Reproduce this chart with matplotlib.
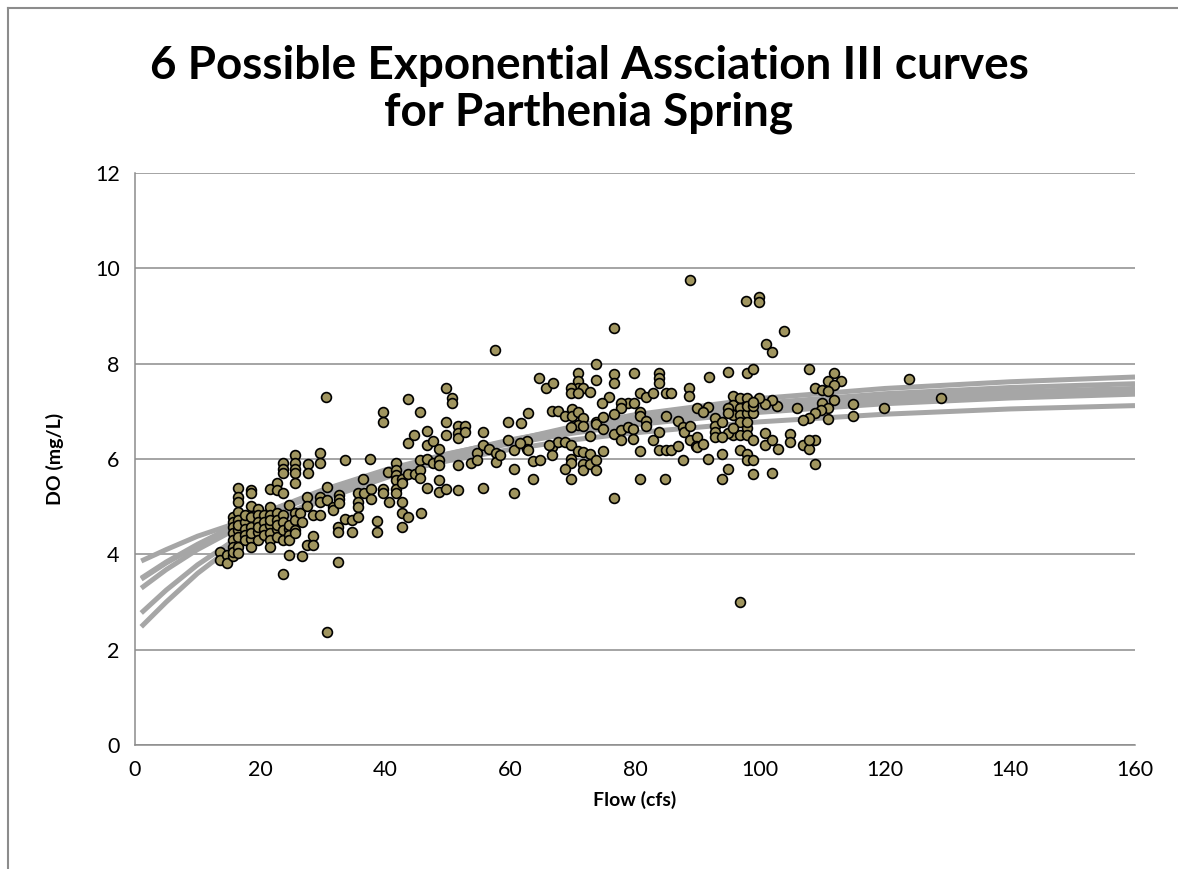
import matplotlib.pyplot as plt
from matplotlib.lines import Line2D

plt.rcParams['font.family'] = ['Lato', 'DejaVu Sans']

flow = [
    # flow < 26
    13.6, 13.6, 14.7, 14.7, 15.6, 15.6, 15.6, 15.6, 15.6, 15.6, 15.6, 15.6,
    16.5, 16.5, 16.5, 16.5, 16.5, 16.5, 16.5, 16.5, 16.5, 16.5,
    17.6, 17.6, 17.6, 17.6, 17.6,
    18.6, 18.6, 18.6, 18.6, 18.6, 18.6, 18.6, 18.6,
    19.6, 19.6, 19.6, 19.6, 19.6, 19.6,
    20.7, 20.7, 20.7, 20.7,
    21.6, 21.6, 21.6, 21.6, 21.6, 21.6, 21.6, 21.6,
    22.7, 22.7, 22.7, 22.7, 22.7, 22.7, 22.7,
    23.6, 23.6, 23.6, 23.6, 23.6, 23.6, 23.6, 23.6, 23.6,
    24.7, 24.7, 24.7, 24.7, 24.7, 24.7,
    25.6, 25.6, 25.6, 25.6, 25.6, 25.6, 25.6, 25.6, 25.6,
    # 26 - 58
    26.4, 26.7, 26.7, 27.6, 27.6, 27.5, 27.5, 27.5, 28.5, 28.5, 28.5,
    29.6, 29.6, 29.6, 29.6, 29.6, 30.6, 30.7, 30.7, 30.7, 31.7, 31.7,
    32.5, 32.5, 32.5, 32.7, 32.7, 32.7, 33.6, 33.6, 34.7, 34.7,
    35.7, 35.7, 35.7, 35.7, 36.5, 36.7, 37.6, 37.7, 37.7, 38.7, 38.7,
    39.7, 39.7, 39.7, 39.7, 40.5, 40.7,
    41.7, 41.7, 41.7, 41.7, 41.7, 41.7, 42.7, 42.7, 42.7, 42.7, 42.7,
    43.6, 43.6, 43.7, 43.7, 44.6, 44.8, 45.6, 45.6, 45.6, 45.6, 45.8,
    46.7, 46.7, 46.7, 46.7, 47.7, 47.7, 48.7, 48.7, 48.7, 48.7, 48.7,
    49.7, 49.7, 49.7, 49.8, 50.7, 50.7, 51.7, 51.7, 51.7, 51.7, 51.7,
    52.8, 52.8, 53.7, 54.7, 54.7, 55.6, 55.7, 55.6, 56.7, 57.6, 57.8, 57.8,
    # 58 - 90
    88.8, 76.7, 73.7, 64.7, 65.8, 66.8, 70.8, 70.8, 70.8, 69.7, 69.7,
    71.7, 72.8, 70.8, 73.7, 76.7, 76.7, 75.8, 74.7, 79.8, 80.8, 81.8, 78.8,
    77.7, 77.7, 79.8, 83.8, 83.8, 83.8, 84.9, 85.8, 82.8, 88.7, 88.7,
    59.7, 61.7, 62.8, 66.7, 67.7, 68.8, 69.9, 69.9, 70.8, 71.7, 70.8, 69.7,
    71.7, 73.7, 73.7, 74.8, 74.8, 76.7, 76.7, 77.7, 77.7, 78.8, 79.7, 79.7,
    80.8, 80.8, 81.8, 81.8, 82.8, 83.8, 84.9, 86.8, 87.7, 87.9, 88.8, 88.8,
    89.9, 89.9, 89.8,
    58.4, 60.7, 62.7, 62.7, 63.7, 64.8, 66.7, 66.7, 67.7, 68.8, 69.7, 69.7,
    69.7, 68.8, 69.7, 70.8, 71.7, 71.7, 71.7, 72.8, 72.8, 72.8, 73.7, 73.7,
    74.8, 60.7, 60.7, 63.7, 61.6, 59.7, 62.8, 66.3,
    76.7, 80.8, 80.8, 83.8, 84.9, 85.8, 86.8, 87.7, 89.9, 84.8,
    # > 90
    97.8, 99.8, 99.8, 103.8, 100.9, 101.9, 91.8, 94.8, 97.9, 98.8, 107.8,
    111.9, 110.8, 112.9, 111.9, 108.8, 109.9, 110.9,
    111.9, 109.9, 110.9, 109.8, 108.8, 107.8, 106.8, 110.8,
    114.8, 114.8, 119.8, 123.9, 128.9,
    105.9, 102.7, 101.9, 100.8, 99.9,
    95.7, 95.7, 95.7, 95.7, 96.8, 96.8, 96.8, 96.8, 96.8,
    97.9, 97.9, 97.9, 97.9, 97.9, 97.9, 94.8, 94.8, 94.8,
    98.8, 98.8, 98.8, 98.8, 91.7, 91.7, 90.8, 90.8,
    92.8, 92.8, 92.8, 92.8, 93.9, 93.9, 93.9, 95.7, 96.8, 97.9,
    100.8, 100.8, 101.9, 102.8, 104.8, 104.8, 106.8, 107.8, 108.8, 107.8,
    93.9, 94.8, 97.9, 98.8, 98.8, 101.9, 108.8, 96.8,
]

do = [
    4.05, 3.88, 3.98, 3.82, 3.96, 4.79, 4.68, 4.58, 4.44, 4.30, 4.16, 4.05,
    5.40, 5.21, 5.10, 4.89, 4.72, 4.51, 4.37, 4.16, 4.62, 4.02,
    4.68, 4.54, 4.40, 4.30, 4.82,
    5.36, 5.29, 5.01, 4.79, 4.58, 4.33, 4.16, 4.45,
    4.96, 4.82, 4.68, 4.47, 4.30, 4.58,
    4.82, 4.68, 4.54, 4.40,
    5.38, 5.00, 4.82, 4.61, 4.44, 4.30, 4.16, 4.72,
    5.49, 4.86, 4.72, 4.54, 4.37, 5.35, 4.62,
    5.91, 5.80, 5.70, 5.28, 4.82, 4.68, 4.51, 4.30, 3.59,
    5.03, 4.54, 4.40, 4.30, 3.98, 4.62,
    6.08, 5.91, 5.80, 5.70, 5.49, 4.86, 4.72, 4.51, 4.44,
    4.86, 4.68, 3.96, 5.89, 5.70, 5.21, 5.01, 4.19, 4.82, 4.38, 4.19,
    6.12, 5.91, 5.21, 5.10, 4.82, 7.31, 5.42, 5.14, 2.38, 5.00, 4.93,
    4.58, 4.47, 3.83, 5.24, 5.17, 5.07, 5.98, 4.75, 4.73, 4.47,
    5.28, 5.10, 5.00, 4.79, 5.57, 5.28, 6.01, 5.38, 5.17, 4.69, 4.47,
    6.99, 6.78, 5.38, 5.28, 5.73, 5.10,
    5.92, 5.77, 5.66, 5.56, 5.38, 5.28, 5.59, 5.49, 5.10, 4.87, 4.58,
    7.25, 6.33, 5.68, 4.79, 6.50, 5.68, 6.99, 5.98, 5.77, 5.61, 4.87,
    6.59, 6.29, 5.99, 5.40, 6.38, 5.91, 6.20, 5.98, 5.87, 5.56, 5.31,
    7.49, 6.78, 6.50, 5.38, 7.29, 7.18, 6.69, 6.54, 6.45, 5.87, 5.35,
    6.69, 6.57, 5.92, 6.13, 5.98, 6.57, 6.29, 5.40, 6.22, 8.29, 6.12, 5.94,
    9.75, 8.75, 7.99, 7.69, 7.50, 7.59, 7.80, 7.64, 7.48, 7.48, 7.38,
    7.50, 7.41, 7.38, 7.66, 7.78, 7.59, 7.31, 7.18, 7.80, 7.39, 7.31, 7.18,
    7.18, 7.06, 7.18, 7.80, 7.69, 7.59, 7.39, 7.39, 7.39, 7.50, 7.33,
    6.78, 6.75, 6.97, 7.01, 7.01, 6.91, 7.05, 6.91, 6.98, 6.85, 6.71, 6.68,
    6.70, 6.78, 6.73, 6.89, 6.63, 6.94, 6.52, 6.61, 6.40, 6.68, 6.63, 6.41,
    6.99, 6.91, 6.80, 6.69, 6.40, 6.56, 6.91, 6.80, 6.68, 6.56, 6.70, 6.40,
    7.08, 6.47, 6.27,
    6.08, 6.19, 6.38, 6.21, 5.96, 5.98, 6.26, 6.08, 6.36, 6.36, 6.29, 6.01,
    5.91, 5.78, 5.57, 6.17, 6.15, 5.89, 5.77, 6.48, 6.10, 5.89, 5.98, 5.77,
    6.17, 5.78, 5.28, 5.57, 6.33, 6.40, 6.19, 6.29,
    5.19, 6.17, 5.57, 6.19, 6.19, 6.19, 6.27, 5.98, 6.26, 5.58,
    9.31, 9.40, 9.29, 8.69, 8.41, 8.25, 7.73, 7.83, 7.80, 7.89, 7.89,
    7.81, 7.64, 7.64, 7.55, 7.48, 7.45, 7.43,
    7.24, 7.18, 7.08, 7.03, 6.96, 6.87, 6.82, 6.84,
    7.15, 6.90, 7.08, 7.68, 7.29,
    7.08, 7.11, 7.24, 7.15, 7.29,
    7.32, 7.13, 6.92, 6.50, 7.29, 7.08, 6.92, 6.78, 6.50,
    7.29, 6.96, 7.11, 6.64, 6.78, 6.50, 7.08, 6.96, 6.54,
    6.96, 7.11, 7.20, 6.40, 7.10, 6.01, 6.99, 6.31,
    6.87, 6.69, 6.57, 6.47, 6.78, 6.47, 6.10, 6.64, 6.18, 6.10,
    6.55, 6.29, 6.40, 6.22, 6.52, 6.36, 6.29, 6.22, 6.40, 6.40,
    5.57, 5.78, 5.98, 5.98, 5.68, 5.71, 5.89, 3.00,
]

# six fitted exponential association curves, values read at these flows
curve_flow = [1, 5, 10, 15, 20, 30, 40, 50, 60, 70, 80, 100, 120, 140, 160]
curve_1 = [3.86, 4.10, 4.38, 4.60, 4.85, 5.30, 5.66, 5.96, 6.20, 6.40, 6.55, 6.78, 6.94, 7.05, 7.12]
curve_2 = [3.48, 3.82, 4.18, 4.50, 4.80, 5.30, 5.71, 6.05, 6.32, 6.54, 6.72, 6.98, 7.16, 7.28, 7.36]
curve_3 = [3.50, 3.84, 4.21, 4.54, 4.84, 5.35, 5.77, 6.11, 6.38, 6.60, 6.78, 7.05, 7.23, 7.35, 7.42]
curve_4 = [3.29, 3.68, 4.10, 4.45, 4.76, 5.30, 5.73, 6.10, 6.40, 6.64, 6.83, 7.10, 7.29, 7.41, 7.48]
curve_5 = [2.77, 3.25, 3.78, 4.22, 4.58, 5.20, 5.64, 6.04, 6.37, 6.64, 6.86, 7.17, 7.37, 7.50, 7.58]
curve_6 = [2.48, 3.00, 3.60, 4.10, 4.50, 5.15, 5.60, 6.02, 6.38, 6.68, 6.93, 7.27, 7.48, 7.62, 7.72]

fig = plt.figure(figsize=(11.78, 8.69), dpi=100)
ax = fig.add_axes([135 / 1178, 124 / 869, 1000 / 1178, 572 / 869])

for c in [curve_1, curve_2, curve_3, curve_4, curve_5, curve_6]:
    ax.plot(curve_flow, c, color="#a6a6a6", lw=3.6, solid_capstyle="butt", zorder=2)

ax.scatter(flow, do, s=50, facecolor="#a0955f", edgecolor="black", linewidths=1.2, zorder=3)

ax.set_xlim(0, 160)
ax.set_ylim(0, 12)
ax.set_xticks(range(0, 161, 20))
ax.set_yticks(range(0, 13, 2))
ax.grid(axis="y", color="#8c8c8c", lw=1.1)
ax.set_axisbelow(True)
for side in ["top", "right"]:
    ax.spines[side].set_visible(False)
for side in ["left", "bottom"]:
    ax.spines[side].set_color("#8c8c8c")
    ax.spines[side].set_linewidth(1.1)
ax.tick_params(length=0, labelsize=15.5, pad=11)

ax.set_xlabel("Flow (cfs)", fontsize=14, fontweight="bold", labelpad=8)
ax.set_ylabel("DO (mg/L)", fontsize=14, fontweight="bold", labelpad=22)

fig.text(0.5, 0.897, "6 Possible Exponential Assciation III curves\nfor Parthenia Spring",
         ha="center", va="center", fontsize=33, fontweight="bold", linespacing=1.15)

# outer chart border (cut off at the right and bottom)
fig.add_artist(Line2D([8 / 1178, 1], [1 - 8 / 869, 1 - 8 / 869], color="#8c8c8c", lw=1.5))
fig.add_artist(Line2D([8 / 1178, 8 / 1178], [0, 1 - 8 / 869], color="#8c8c8c", lw=1.5))

fig.savefig("out.png", dpi=100)
